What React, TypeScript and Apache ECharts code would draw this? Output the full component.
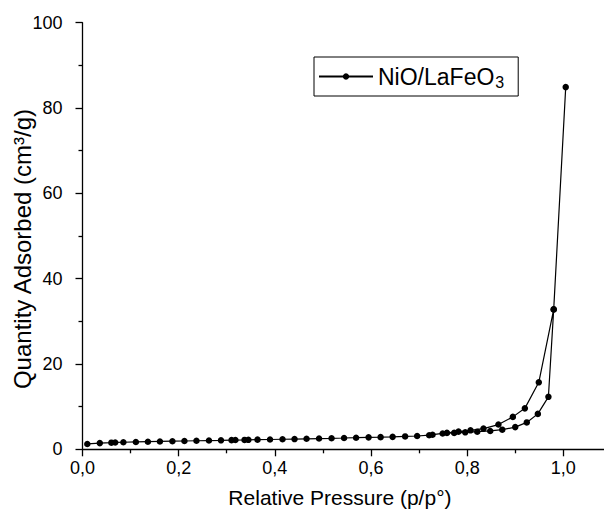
import React, { useEffect, useRef } from "react";
import * as echarts from "echarts";

// Adsorption branch (relative pressure, quantity adsorbed cm³/g)
const adsP = [0.010, 0.036, 0.060, 0.068, 0.085, 0.111, 0.136, 0.161, 0.187, 0.212, 0.237, 0.263, 0.288, 0.310, 0.318, 0.337, 0.345, 0.364, 0.390, 0.416, 0.441, 0.466, 0.492, 0.518, 0.544, 0.569, 0.595, 0.620, 0.645, 0.671, 0.696, 0.721, 0.749, 0.773, 0.796, 0.821, 0.848, 0.873, 0.900, 0.924, 0.947, 0.969, 0.980, 1.005];
const adsQ = [1.25, 1.45, 1.55, 1.6, 1.65, 1.72, 1.78, 1.84, 1.9, 1.95, 2.0, 2.05, 2.1, 2.15, 2.17, 2.2, 2.22, 2.26, 2.3, 2.35, 2.4, 2.46, 2.52, 2.58, 2.65, 2.72, 2.8, 2.85, 2.92, 3.02, 3.12, 3.3, 3.7, 3.85, 3.98, 4.13, 4.3, 4.6, 5.2, 6.3, 8.3, 12.3, 32.8, 84.9];
// Desorption branch
const desP = [0.980, 0.949, 0.920, 0.895, 0.865, 0.834, 0.807, 0.782, 0.758, 0.728];
const desQ = [32.8, 15.7, 9.6, 7.6, 5.8, 4.85, 4.45, 4.15, 3.85, 3.42];

const seriesName = "NiO/LaFeO3";
const xTicks = [0, 0.2, 0.4, 0.6, 0.8, 1.0];
const xTitle = "Relative Pressure (p/p°)";
const yTitle = "Quantity Adsorbed (cm³/g)";

const FONT = "'Liberation Sans', Arial, sans-serif";

export default function App() {
  const ref = useRef<HTMLDivElement>(null);
  useEffect(() => {
    if (!ref.current) return;
    const chart = echarts.init(ref.current, undefined, { renderer: "svg" });
    const data: number[][] = [];
    adsP.forEach((p, i) => data.push([p, adsQ[i]]));
    desP.forEach((p, i) => data.push([p, desQ[i]]));
    chart.setOption({
      animation: false,
      backgroundColor: "#fff",
      textStyle: { fontFamily: FONT },
      grid: {
        left: 82.5,
        top: 22.7,
        bottom: 65.7,
        right: -7.4,
        containLabel: false,
        outerBoundsMode: "none",
      },
      graphic: [
        {
          type: "text",
          x: 22,
          y: 249,
          rotation: Math.PI / 2,
          style: {
            text: yTitle,
            fontSize: 24,
            fontFamily: FONT,
            fill: "#000",
            align: "center",
            verticalAlign: "middle",
          },
        },
      ],
      legend: {
        show: true,
        left: 314,
        top: 57,
        borderColor: "#000",
        borderWidth: 1,
        borderRadius: 0,
        padding: [8, 14, 6, 4],
        itemWidth: 54,
        itemHeight: 8,
        itemGap: 6,
        formatter: () => "{m|NiO/LaFeO}{s|3}",
        textStyle: {
          color: "#000",
          fontFamily: FONT,
          rich: {
            m: { fontSize: 23, color: "#000", fontFamily: FONT },
            s: { fontSize: 16, color: "#000", fontFamily: FONT, padding: [11, 0, 0, 1] },
          },
        },
      },
      xAxis: {
        type: "value",
        min: 0,
        max: 1.1,
        interval: 0.2,
        name: xTitle,
        nameLocation: "middle",
        nameGap: 38,
        nameTextStyle: { fontSize: 21, color: "#000", fontFamily: FONT, padding: [0, 14, 0, 0] },
        axisLine: { onZero: false, lineStyle: { color: "#000", width: 1.3 } },
        axisTick: { inside: false, length: 7, lineStyle: { color: "#000", width: 1.3 } },
        minorTick: { show: true, splitNumber: 2, length: 4, lineStyle: { color: "#000", width: 1.3 } },
        splitLine: { show: false },
        axisLabel: {
          margin: 10,
          fontSize: 18,
          color: "#000",
          fontFamily: FONT,
          formatter: (v: number) => {
            const t = xTicks.find((x) => Math.abs(x - v) < 1e-6);
            return t === undefined ? "" : t.toFixed(1).replace(".", ",");
          },
        },
      },
      yAxis: {
        type: "value",
        min: 0,
        max: 100,
        interval: 20,
        axisLine: { show: true, onZero: false, lineStyle: { color: "#000", width: 1.3 } },
        axisTick: { show: true, inside: false, length: 7, lineStyle: { color: "#000", width: 1.3 } },
        minorTick: { show: true, splitNumber: 2, length: 4, lineStyle: { color: "#000", width: 1.3 } },
        splitLine: { show: false },
        axisLabel: { margin: 20, fontSize: 18, color: "#000", fontFamily: FONT },
      },
      series: [
        {
          name: seriesName,
          type: "line",
          data,
          symbol: "circle",
          symbolSize: 6.5,
          showAllSymbol: true,
          itemStyle: { color: "#000" },
          lineStyle: { color: "#000", width: 1.2 },
          clip: false,
        },
      ],
    });
    return () => chart.dispose();
  }, []);
  return (
    <div
      ref={ref}
      style={{ position: "absolute", left: 0, top: 0, width: 604, height: 515, overflow: "hidden" }}
    />
  );
}
